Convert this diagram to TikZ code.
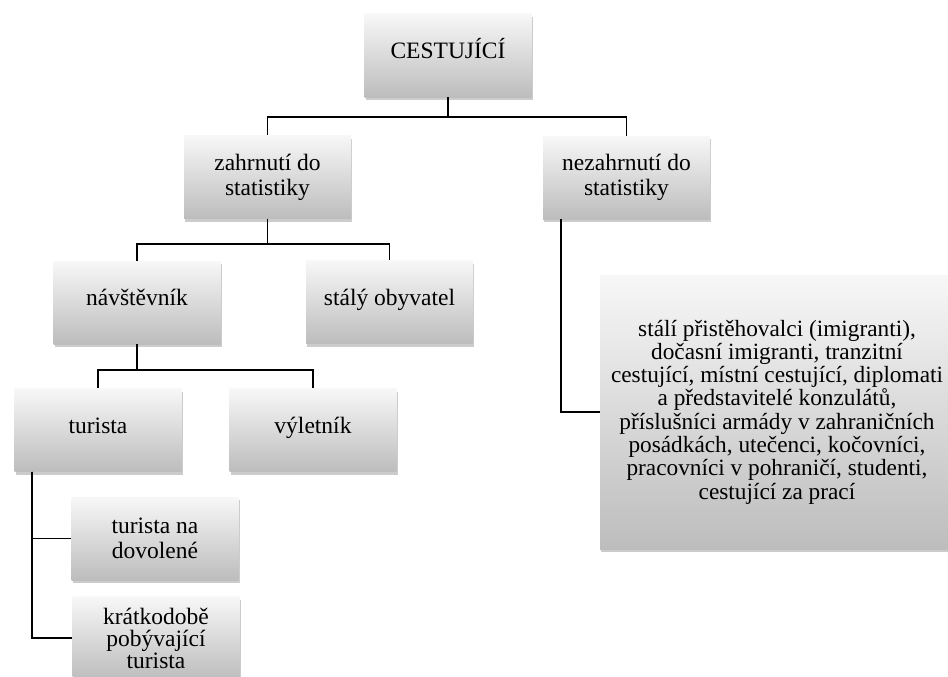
\documentclass[tikz,border=0pt]{standalone}
\usepackage{fontspec}
\setmainfont{Liberation Serif}
\usetikzlibrary{shadows}
\begin{document}
\begin{tikzpicture}[x=1pt,y=-1pt,
  box/.style={rectangle, draw=none, top color=black!3, middle color=black!9, bottom color=black!26,
    minimum width=167pt, minimum height=83pt, inner sep=2pt, align=center,
    font=\fontsize{23.5}{25}\selectfont,
    drop shadow={shadow xshift=1pt, shadow yshift=-3pt, fill=black, opacity=0.2}},
  one/.style={text height=0.9em, text depth=0.24em},
  conn/.style={draw=black, line width=1.8pt}]
\useasboundingbox (0,0) rectangle (948,677);
\clip (0,0) rectangle (948,677);
\node[box, one] (cest) at (448,55.5) {CESTUJÍCÍ};
\node[box] (zahr) at (267.5,177) {zahrnutí do\\statistiky};
\node[box] (nez) at (626.5,177.5) {nezahrnutí do\\statistiky};
\node[box, one] (navs) at (137,302.5) {návštěvník};
\node[box, one] (staly) at (389.5,302) {stálý obyvatel};
\node[box, one] (tur) at (98,430) {turista};
\node[box, one] (vyl) at (313,430) {výletník};
\node[box] (tnd) at (155,538.5) {turista na\\dovolené};
\node[box, font=\fontsize{23.5}{22}\selectfont] (krat) at (156,638) {krátkodobě\\pobývající\\turista};
\node[box, minimum width=354pt, minimum height=274pt, font=\fontsize{23.3}{23.3}\selectfont] (big) at (777,412)
  {stálí přistěhovalci (imigranti),\\dočasní imigranti, tranzitní\\cestující, místní cestující, diplomati\\a představitelé konzulátů,\\příslušníci armády v zahraničních\\posádkách, utečenci, kočovníci,\\pracovníci v pohraničí, studenti,\\cestující za prací};
\draw[conn] (cest.south) -- ++(0,20) -| (zahr.north);
\draw[conn] (cest.south) -- ++(0,20) -| (nez.north);
\draw[conn] (zahr.south) -- ++(0,25) -| (navs.north);
\draw[conn] (zahr.south) -- ++(0,25) -| (staly.north);
\draw[conn] (navs.south) -- ++(0,26) -| (tur.north);
\draw[conn] (navs.south) -- ++(0,26) -| (vyl.north);
\coordinate (tb) at ([xshift=18pt]tur.south west);
\draw[conn] (tb) |- (tnd.west);
\draw[conn] (tb) |- (krat.west);
\coordinate (nb) at ([xshift=18pt]nez.south west);
\draw[conn] (nb) |- (big.west);
\end{tikzpicture}
\end{document}
